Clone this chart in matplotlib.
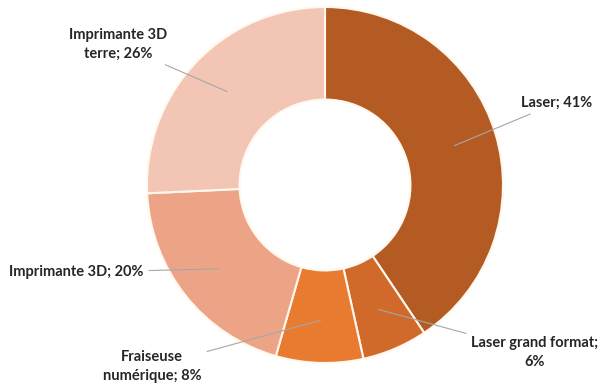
import matplotlib.pyplot as plt
import numpy as np

# parts of the machine park, clockwise from the top
labels = ["Laser", "Laser grand format", "Fraiseuse\nnumérique", "Imprimante 3D", "Imprimante 3D\nterre"]
values = [41, 6, 8, 20, 26]
colors = ["#B45B23", "#D0692A", "#E97B30", "#EDA486", "#F3C5B4"]
seps = ["; ", ";\n", "; ", "; ", "; "]

# where each label sits (data coords) and how it is aligned
label_xy = [(1.10, 0.46), (1.18, -0.94), (-0.97, -1.02), (-1.02, -0.49), (-1.16, 0.79)]
label_ha = ["left", "center", "center", "right", "center"]

plt.rcParams['font.family'] = ['Lato', 'DejaVu Sans']

fig = plt.figure(figsize=(6.01, 3.85), dpi=100)
ax = fig.add_axes([(325 - 178) / 601, (385 - 185 - 178) / 385, 356 / 601, 356 / 385])

wedges, _ = ax.pie(values, colors=colors, startangle=90, counterclock=False,
                   radius=1.0, wedgeprops=dict(width=0.52, edgecolor="#FFF8EE", linewidth=1.5))

for w, lab, val, sep, xy, ha in zip(wedges, labels, values, seps, label_xy, label_ha):
    ang = np.deg2rad((w.theta1 + w.theta2) / 2)
    r = 0.76
    anchor = (r * np.cos(ang), r * np.sin(ang))
    ax.annotate("%s%s%d%%" % (lab, sep, val), xy=anchor, xytext=xy,
                ha=ha, va="center", fontsize=10.5, fontweight="bold", color="#262626",
                linespacing=1.45,
                arrowprops=dict(arrowstyle="-", color="#A6A6A6", lw=0.8, shrinkA=2, shrinkB=0))

ax.set_xlim(-1, 1)
ax.set_ylim(-1, 1)
ax.set_aspect("equal")
ax.axis("off")

plt.savefig("out.png", dpi=100)
